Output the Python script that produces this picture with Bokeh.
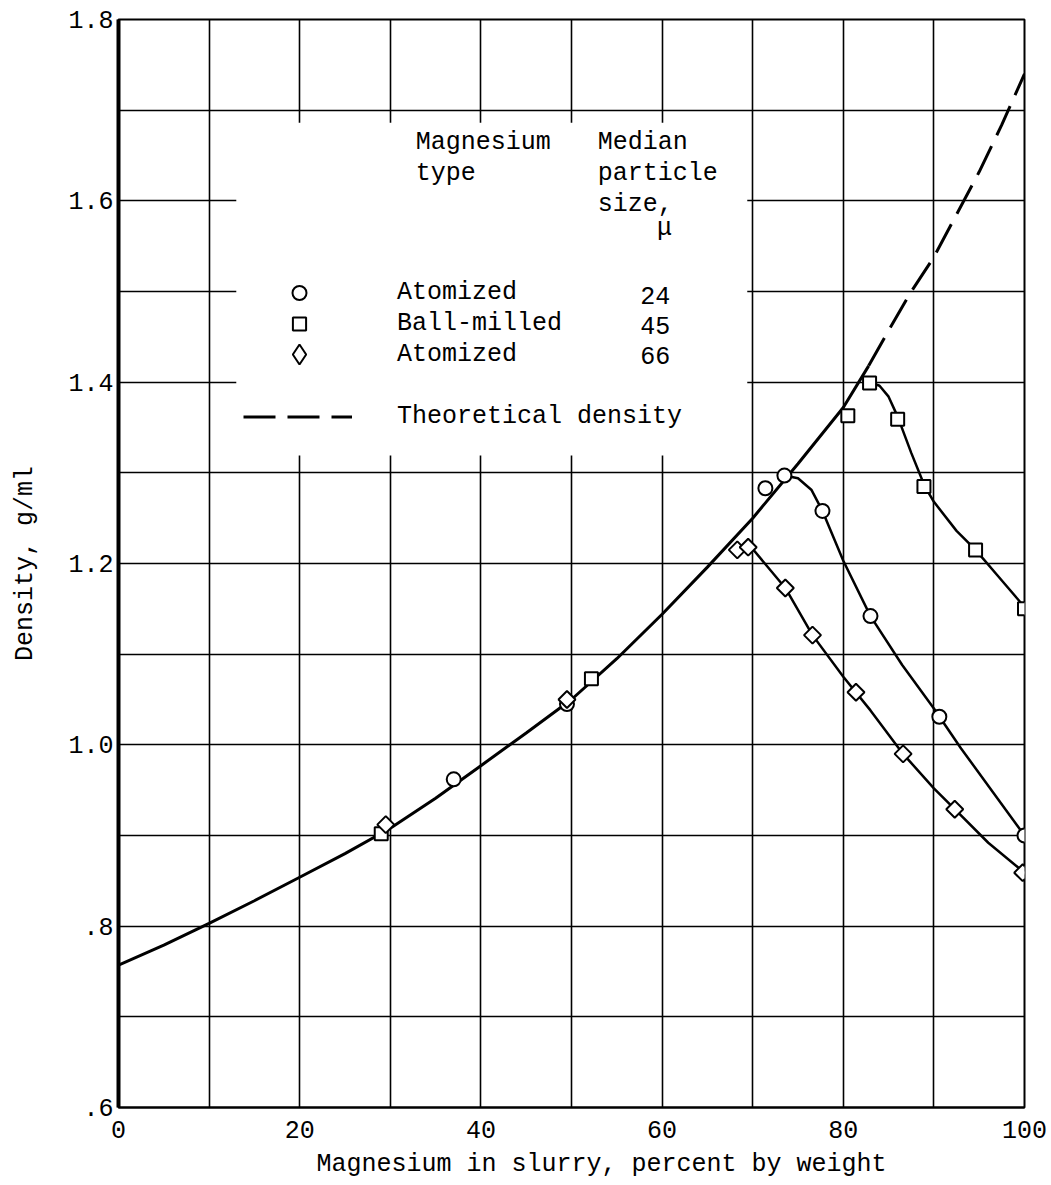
import numpy as np
from bokeh.plotting import figure
from bokeh.models import (FixedTicker, Legend, LegendItem, BoxAnnotation, Label,
                          Range1d, CustomJSTickFormatter)
from bokeh.embed import file_html
from bokeh.resources import INLINE

FONT = "Liberation Mono"

# ---- data ----
atom24_x = [37.0, 49.5, 71.4, 73.5, 77.7, 83.0, 90.6, 100.0]
atom24_y = [0.962, 1.045, 1.283, 1.297, 1.258, 1.142, 1.031, 0.900]

ball45_x = [29.0, 52.2, 80.5, 82.9, 86.0, 88.9, 94.6, 100.0]
ball45_y = [0.902, 1.073, 1.363, 1.399, 1.359, 1.285, 1.215, 1.150]

atom66_x = [29.5, 49.5, 68.3, 69.5, 73.6, 76.6, 81.4, 86.6, 92.3, 99.8]
atom66_y = [0.912, 1.050, 1.215, 1.218, 1.173, 1.121, 1.058, 0.990, 0.929, 0.859]

# fitted curves
theory_x = [0, 5, 10, 15, 20, 25, 30, 35, 40, 45, 50, 55, 60, 65, 70, 75, 80, 82.8]
theory_y = [0.757, 0.779, 0.803, 0.828, 0.854, 0.880, 0.908, 0.941, 0.977, 1.013,
            1.050, 1.095, 1.144, 1.196, 1.250, 1.310, 1.372, 1.418]

theory_dash_x = [82.8, 85, 87.5, 90, 92.5, 95, 97.5, 100]
theory_dash_y = [1.418, 1.457, 1.500, 1.538, 1.585, 1.632, 1.684, 1.740]

curve24_x = [73.5, 75, 76.5, 77.7, 80, 83, 86.5, 90, 93, 96.5, 100]
curve24_y = [1.297, 1.294, 1.281, 1.258, 1.203, 1.142, 1.088, 1.040, 0.996, 0.948, 0.900]

curve45_x = [82.9, 84, 85, 86, 87.5, 89, 90, 92.5, 94.6, 97, 100]
curve45_y = [1.400, 1.396, 1.384, 1.362, 1.322, 1.285, 1.268, 1.236, 1.215, 1.187, 1.152]

curve66_x = [69.5, 73.6, 76.6, 80, 83, 86.6, 90, 92.3, 96, 100]
curve66_y = [1.222, 1.173, 1.121, 1.075, 1.038, 0.990, 0.952, 0.929, 0.892, 0.859]

x_ticks = [0, 20, 40, 60, 80, 100]
y_ticks = [0.6, 0.8, 1.0, 1.2, 1.4, 1.6, 1.8]
x_grid = [round(v, 1) for v in np.arange(0, 101, 10)]
y_grid = [round(v, 1) for v in np.arange(0.6, 1.81, 0.1)]

legend_types = ["Atomized", "Ball-milled", "Atomized"]
legend_sizes = ["24", "45", "66"]

# ---- figure ----
p = figure(width=1051, height=1185, output_backend="svg", toolbar_location=None,
           x_range=Range1d(0, 100), y_range=Range1d(0.6, 1.8),
           min_border_left=118, min_border_right=27, min_border_top=19,
           min_border_bottom=78)
p.background_fill_color = "white"
p.border_fill_color = "white"
p.outline_line_color = "black"
p.outline_line_width = 2

p.xgrid.ticker = FixedTicker(ticks=x_grid)
p.ygrid.ticker = FixedTicker(ticks=y_grid)
for g in (p.xgrid, p.ygrid):
    g.grid_line_color = "black"
    g.grid_line_width = 1.6
    g.grid_line_alpha = 1.0

p.xaxis.ticker = FixedTicker(ticks=x_ticks)
p.yaxis.ticker = FixedTicker(ticks=y_ticks)
p.yaxis.formatter = CustomJSTickFormatter(
    code="return tick < 1 ? tick.toFixed(1).slice(1) : tick.toFixed(1);")
for ax in (p.xaxis, p.yaxis):
    ax.major_tick_out = 0
    ax.major_tick_in = 0
    ax.minor_tick_out = 0
    ax.minor_tick_in = 0
    ax.axis_line_color = "black"
    ax.major_label_text_font = FONT
    ax.major_label_text_font_size = "25px"
    ax.major_label_text_color = "black"
    ax.axis_label_text_font = FONT
    ax.axis_label_text_font_size = "25px"
    ax.axis_label_text_font_style = "normal"
    ax.axis_label_text_color = "black"
p.xaxis.axis_line_width = 2
p.yaxis.axis_line_width = 4
p.xaxis.major_label_standoff = 13
p.yaxis.major_label_standoff = 5

p.yaxis.axis_label = "Density, g/ml"
p.yaxis.axis_label_standoff = 25
p.xaxis.axis_label = "\u00a0\u00a0\u00a0\u00a0Magnesium in slurry, percent by weight"
p.xaxis.axis_label_standoff = 9

# white legend panel blanking the grid
p.add_layout(BoxAnnotation(left=13.0, right=69.4, bottom=1.319, top=1.686,
                           fill_color="white", fill_alpha=1.0, line_alpha=0))

# ---- curves ----
r_theory = p.line(theory_x, theory_y, line_color="black", line_width=3)
r_dash = p.line(theory_dash_x, theory_dash_y, line_color="black", line_width=3,
                line_dash="32 12")
p.line(curve24_x, curve24_y, line_color="black", line_width=2.5)
p.line(curve45_x, curve45_y, line_color="black", line_width=2.5)
p.line(curve66_x, curve66_y, line_color="black", line_width=2.5)

r_c = p.scatter(atom24_x, atom24_y, marker="circle", size=14, fill_color="white",
                line_color="black", line_width=2)
r_s = p.scatter(ball45_x, ball45_y, marker="square", size=13, fill_color="white",
                line_color="black", line_width=2)
# diamond key used by the legend (sits fully hidden beneath the rotated squares)
r_d_key = p.scatter(atom66_x, atom66_y, marker="diamond", size=9, fill_color="white",
                    line_color="black", line_width=2)
r_d = p.scatter(atom66_x, atom66_y, marker="square", angle=np.pi / 4, size=12,
                fill_color="white", line_color="black", line_width=2)

# ---- legend (one small legend per row so each key can have its own size) ----
common = dict(orientation="vertical", spacing=0, padding=0, margin=0,
              label_text_font=FONT, label_text_font_size="25px",
              label_text_color="black", border_line_alpha=0, background_fill_alpha=0)

FRAME_BOTTOM_PX = 1107

def add_leg(renderer, label, center_px, h, gw, x_off, standoff):
    leg = Legend(items=[LegendItem(label=label, renderers=[renderer])],
                 location=(x_off, FRAME_BOTTOM_PX - (center_px + h / 2.0)),
                 glyph_width=gw, glyph_height=h, label_height=h,
                 label_standoff=standoff, **common)
    p.add_layout(leg)

add_leg(r_c, legend_types[0], 292, 35, 110, 126, 43)
add_leg(r_s, legend_types[1], 323, 33, 110, 126, 43)
add_leg(r_d_key, legend_types[2], 354, 50, 110, 126, 43)
add_leg(r_dash, "Theoretical density", 416, 31, 109, 125, 45)

def txt(x, y, s, align="left"):
    p.add_layout(Label(x=x, y=y, text=s, text_font=FONT, text_font_size="25px",
                       text_align=align, text_baseline="alphabetic",
                       text_color="black"))

txt(32.8, 1.664, "Magnesium")
txt(32.8, 1.630, "type")
txt(52.9, 1.664, "Median")
txt(52.9, 1.630, "particle")
txt(52.9, 1.596, "size,")
txt(61.1, 1.570, "\u03bc", align="right")
for s, yy in zip(legend_sizes, [1.496, 1.463, 1.429]):
    txt(60.9, yy, s, align="right")

open("out.html", "w").write(file_html(p, INLINE))
